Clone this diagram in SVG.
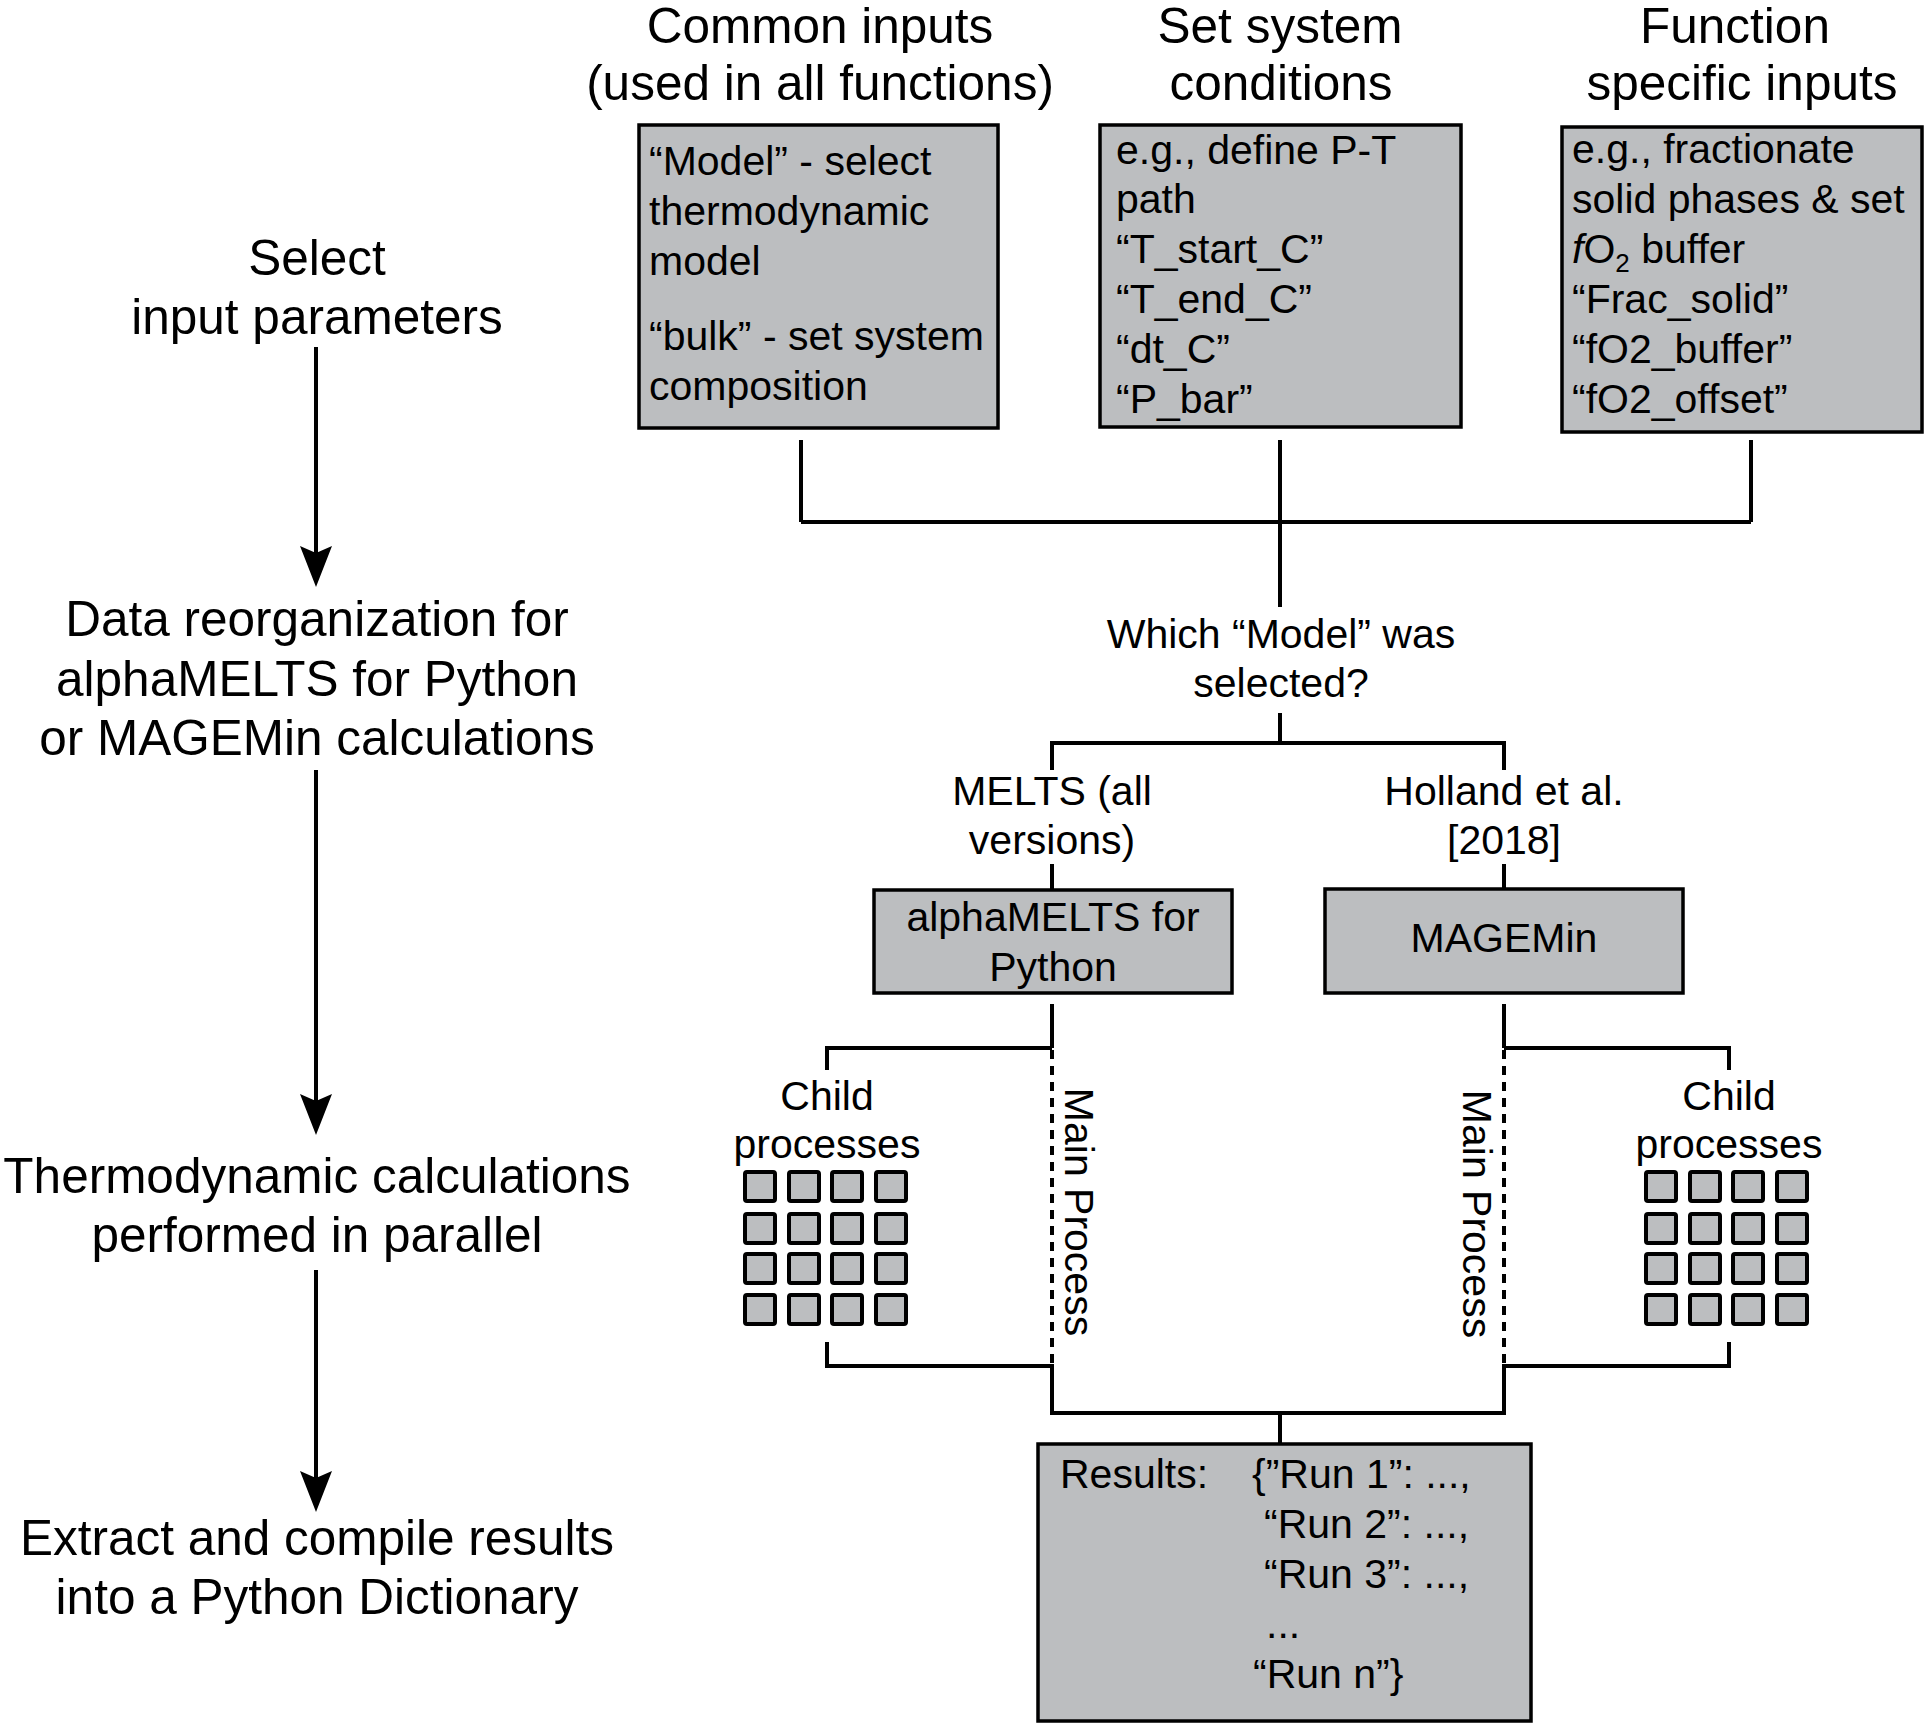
<svg xmlns="http://www.w3.org/2000/svg" xmlns:xlink="http://www.w3.org/1999/xlink" width="1932" height="1724" viewBox="0 0 1932 1724">
<style>
text{font-family:"Liberation Sans",Arial,Helvetica,sans-serif;fill:#000}
.big{font-size:49.5px;text-anchor:middle}
.mid{font-size:41px;text-anchor:middle}
.box{font-size:41px}
.node{fill:#bcbec0;stroke:#000;stroke-width:3.5}
.sq{fill:#bcbec0;stroke:#000;stroke-width:4;}
.ln{fill:none;stroke:#000;stroke-width:4}
.dot{fill:none;stroke:#000;stroke-width:4;stroke-dasharray:9 7}
</style>
<defs>
<marker id="ah" markerUnits="userSpaceOnUse" markerWidth="42" markerHeight="34" refX="31" refY="16" orient="auto">
<path d="M0,0 L41,16 L0,32 L7,16 Z" fill="#000"/>
</marker>
<g id="grid">
<rect class="sq" x="0" y="0" width="30" height="29" rx="2"/><rect class="sq" x="44" y="0" width="30" height="29" rx="2"/><rect class="sq" x="87" y="0" width="30" height="29" rx="2"/><rect class="sq" x="131" y="0" width="30" height="29" rx="2"/>
<rect class="sq" x="0" y="42" width="30" height="29" rx="2"/><rect class="sq" x="44" y="42" width="30" height="29" rx="2"/><rect class="sq" x="87" y="42" width="30" height="29" rx="2"/><rect class="sq" x="131" y="42" width="30" height="29" rx="2"/>
<rect class="sq" x="0" y="82" width="30" height="29" rx="2"/><rect class="sq" x="44" y="82" width="30" height="29" rx="2"/><rect class="sq" x="87" y="82" width="30" height="29" rx="2"/><rect class="sq" x="131" y="82" width="30" height="29" rx="2"/>
<rect class="sq" x="0" y="123" width="30" height="29" rx="2"/><rect class="sq" x="44" y="123" width="30" height="29" rx="2"/><rect class="sq" x="87" y="123" width="30" height="29" rx="2"/><rect class="sq" x="131" y="123" width="30" height="29" rx="2"/>
</g>
</defs>
<rect width="1932" height="1724" fill="#fff"/>

<g id="connectors">
<path class="ln" d="M801,440 V522 M1751,440 V522 M801,522 H1751 M1280,440 V607"/>
<path class="ln" d="M1280,713 V743 M1052,743 H1504 M1052,741 V770 M1504,741 V770"/>
<path class="ln" d="M1052,864 V890 M1504,864 V889"/>
<path class="ln" d="M1052,1004 V1048 M827,1048 H1052 M827,1046 V1070"/>
<path class="ln" d="M1504,1004 V1048 M1504,1048 H1729 M1729,1046 V1070"/>
<path class="dot" d="M1052,1050 V1364 M1504,1050 V1364"/>
<path class="ln" d="M827,1342 V1366 H1052 M1052,1364 V1413 M1729,1342 V1366 H1504 M1504,1364 V1413 M1050,1413 H1506 M1280,1413 V1444"/>
<path class="ln" d="M316,347 V577" marker-end="url(#ah)"/>
<path class="ln" d="M316,770 V1125" marker-end="url(#ah)"/>
<path class="ln" d="M316,1270 V1502" marker-end="url(#ah)"/>
</g>

<g id="step-select">
<text class="big" x="317" y="275">Select</text>
<text class="big" x="317" y="334">input parameters</text>
</g>
<g id="step-reorg">
<text class="big" x="317" y="636">Data reorganization for</text>
<text class="big" x="317" y="696">alphaMELTS for Python</text>
<text class="big" x="317" y="755">or MAGEMin calculations</text>
</g>
<g id="step-thermo">
<text class="big" x="317" y="1193">Thermodynamic calculations</text>
<text class="big" x="317" y="1252">performed in parallel</text>
</g>
<g id="step-extract">
<text class="big" x="317" y="1555">Extract and compile results</text>
<text class="big" x="317" y="1614">into a Python Dictionary</text>
</g>

<g id="common-inputs">
<text class="big" x="820" y="43">Common inputs</text>
<text class="big" x="820" y="100">(used in all functions)</text>
<rect class="node" x="639" y="125" width="359" height="303"/>
<text class="box" x="649" y="175">“Model” - select</text>
<text class="box" x="649" y="225">thermodynamic</text>
<text class="box" x="649" y="275">model</text>
<text class="box" x="649" y="350">“bulk” - set system</text>
<text class="box" x="649" y="400">composition</text>
</g>

<g id="system-conditions">
<text class="big" x="1280" y="43">Set system</text>
<text class="big" x="1281" y="100">conditions</text>
<rect class="node" x="1100" y="125" width="361" height="302"/>
<text class="box" x="1116" y="164">e.g., define P-T</text>
<text class="box" x="1116" y="213">path</text>
<text class="box" x="1116" y="263">“T_start_C”</text>
<text class="box" x="1116" y="313">“T_end_C”</text>
<text class="box" x="1116" y="363">“dt_C”</text>
<text class="box" x="1116" y="413">“P_bar”</text>
</g>

<g id="function-inputs">
<text class="big" x="1735" y="43">Function</text>
<text class="big" x="1742" y="100">specific inputs</text>
<rect class="node" x="1562" y="127" width="360" height="305"/>
<text class="box" x="1572" y="163">e.g., fractionate</text>
<text class="box" x="1572" y="213">solid phases &amp; set</text>
<text class="box" x="1572" y="263"><tspan font-style="italic">f</tspan>O<tspan font-size="26" dy="9">2</tspan><tspan dy="-9"> buffer</tspan></text>
<text class="box" x="1572" y="313">“Frac_solid”</text>
<text class="box" x="1572" y="363">“fO2_buffer”</text>
<text class="box" x="1572" y="413">“fO2_offset”</text>
</g>

<g id="model-question">
<text class="mid" x="1281" y="648">Which “Model” was</text>
<text class="mid" x="1281" y="697">selected?</text>
</g>

<g id="melts-label">
<text class="mid" x="1052" y="805">MELTS (all</text>
<text class="mid" x="1052" y="854">versions)</text>
</g>
<g id="holland-label">
<text class="mid" x="1504" y="805">Holland et al.</text>
<text class="mid" x="1504" y="854">[2018]</text>
</g>

<g id="alphamelts">
<rect class="node" x="874" y="890" width="358" height="103"/>
<text class="mid" x="1053" y="931">alphaMELTS for</text>
<text class="mid" x="1053" y="981">Python</text>
</g>
<g id="magemin">
<rect class="node" x="1325" y="889" width="358" height="104"/>
<text class="mid" x="1504" y="952">MAGEMin</text>
</g>

<g id="child-left">
<text class="mid" x="827" y="1110">Child</text>
<text class="mid" x="827" y="1158">processes</text>
<use xlink:href="#grid" x="745" y="1172"/>
</g>
<g id="main-left">
<text class="mid" transform="translate(1065,1212) rotate(90)">Main Process</text>
</g>
<g id="child-right">
<text class="mid" x="1729" y="1110">Child</text>
<text class="mid" x="1729" y="1158">processes</text>
<use xlink:href="#grid" x="1646" y="1172"/>
</g>
<g id="main-right">
<text class="mid" transform="translate(1463,1214) rotate(90)">Main Process</text>
</g>

<g id="results">
<rect class="node" x="1038" y="1444" width="493" height="277"/>
<text class="box" x="1060" y="1488">Results:</text>
<text class="box" x="1252" y="1488">{”Run 1”: ...,</text>
<text class="box" x="1264" y="1538">“Run 2”: ...,</text>
<text class="box" x="1264" y="1588">“Run 3”: ...,</text>
<text class="box" x="1266" y="1638">...</text>
<text class="box" x="1253" y="1688">“Run n”}</text>
</g>
</svg>
